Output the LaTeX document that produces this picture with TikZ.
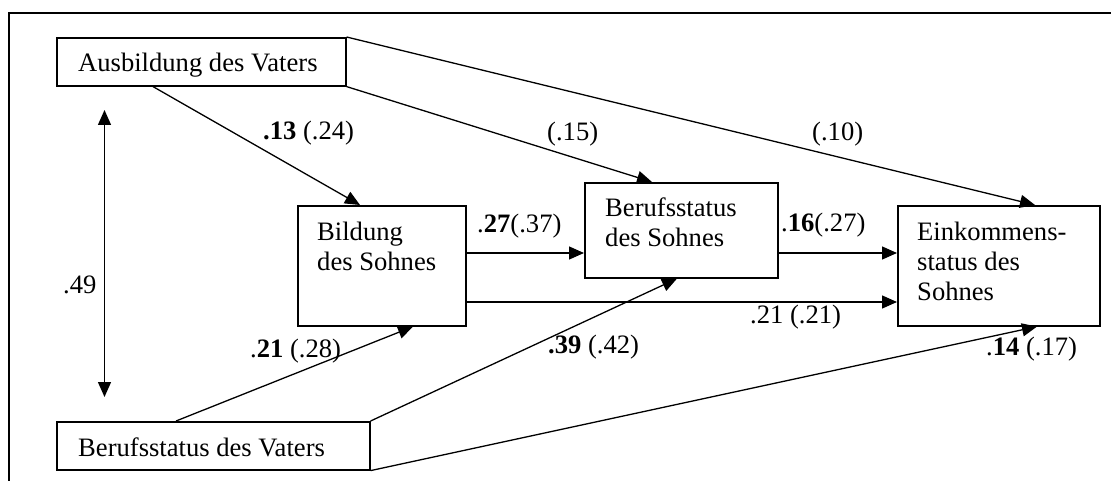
\documentclass[tikz,border=0pt]{standalone}
\usepackage{fontspec}
\setmainfont{Liberation Serif}
\usetikzlibrary{arrows.meta,calc}
\begin{document}
\begin{tikzpicture}[x=1pt,y=-1pt,
  box/.style={draw,line width=1.6pt,rectangle,inner sep=0pt,anchor=north west},
  txt/.style={anchor=base west,inner sep=0pt,align=left,font=\fontsize{26.6}{30}\selectfont},
  lab/.style={anchor=base west,inner sep=0pt,font=\fontsize{26.6}{30}\selectfont},
  arr/.style={line width=1.3pt,-{Triangle[length=15pt,width=13pt]}},
  darr/.style={line width=1.3pt,{Triangle[length=15pt,width=13pt]}-{Triangle[length=15pt,width=13pt]}},
  ln/.style={line width=1.3pt}]
\useasboundingbox (0,0) rectangle (1111,481);
% frame
\draw[line width=2pt] (8.5,481) -- (8.5,13.5) -- (1111,13.5);
% boxes
\node[box,minimum width=289pt,minimum height=48pt] (av) at (56,37) {};
\node[box,minimum width=313pt,minimum height=48pt] (bv) at (56,421) {};
\node[box,minimum width=168pt,minimum height=120pt] (bs) at (297,205) {};
\node[box,minimum width=193pt,minimum height=95pt] (bss) at (584,182) {};
\node[box,minimum width=202pt,minimum height=120pt] (es) at (897,205) {};
% box texts (base = last line)
\node[txt] (tav) at (78,72) {Ausbildung des Vaters};
\node[txt] (tbv) at (78,456) {Berufsstatus des Vaters};
\node[txt] (tbs) at (317,270) {Bildung\\des Sohnes};
\node[txt] (tbss) at (605,247) {Berufsstatus\\des Sohnes};
\node[txt] (tes) at (917,300) {Einkommens-\\status des\\Sohnes};
% connectors
\draw[arr] ($(av.south west)+(97,0)$) -- ($(bs.north west)+(63,0)$);
\draw[arr] (av.south east) -- ($(bss.north west)+(68,0)$);
\draw[arr] (av.north east) -- ($(es.north west)+(138,0)$);
\draw[arr] ($(bs.north east)+(0,48)$) -- ($(bss.north west)+(0,71)$);
\draw[arr] ($(bs.north east)+(0,97)$) -- ($(es.north west)+(0,97)$);
\draw[arr] ($(bss.north east)+(0,71)$) -- ($(es.north west)+(0,48)$);
\draw[arr] ($(bv.north west)+(120,0)$) -- ($(bs.south west)+(116,0)$);
\draw[arr] (bv.north east) -- ($(bss.south west)+(93,0)$);
\draw[arr] (bv.south east) -- ($(es.south west)+(140,0)$);
\coordinate (ct) at (104.5,110);
\coordinate (cb) at (104.5,397);
\draw[darr] (ct) -- (cb);
% labels
\node[lab] (l1) at (263,140) {\textbf{.13} (.24)};
\node[lab] (l2) at (547,141) {(.15)};
\node[lab] (l3) at (812,141) {(.10)};
\node[lab] (l4) at (477,233) {.\textbf{27}(.37)};
\node[lab] (l5) at (781,232) {.\textbf{16}(.27)};
\node[lab] (l6) at (750,323) {.21 (.21)};
\node[lab] (l7) at (986,355) {.\textbf{14} (.17)};
\node[lab] (l8) at (250,357) {.\textbf{21} (.28)};
\node[lab] (l9) at (548,353) {\textbf{.39} (.42)};
\node[lab] (l10) at (63,293) {.49};
\end{tikzpicture}
\end{document}
